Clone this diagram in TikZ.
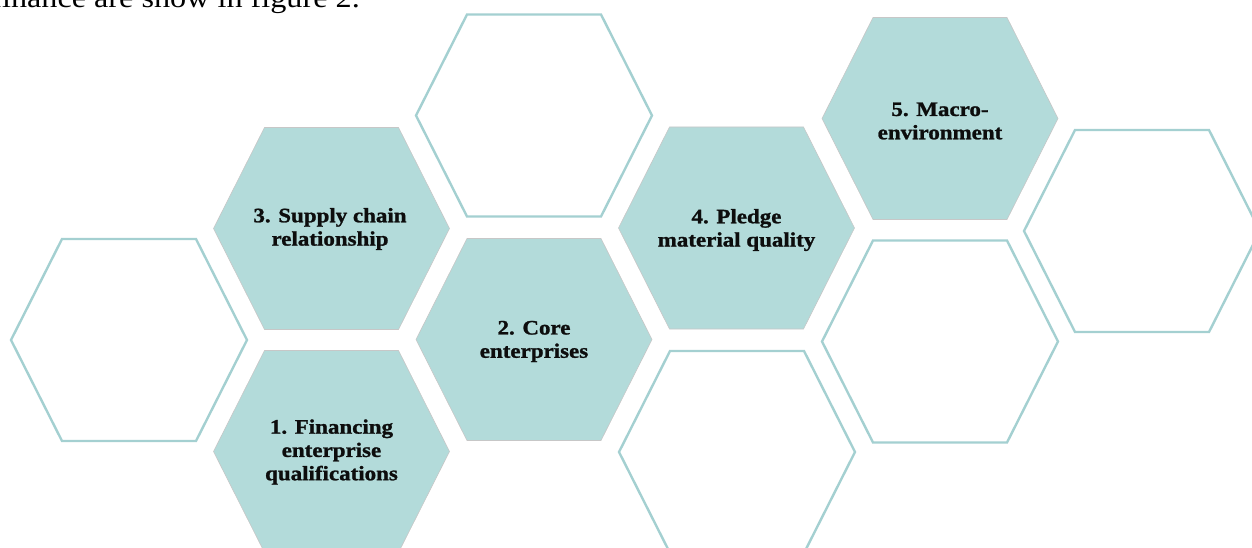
\documentclass[tikz,border=0pt]{standalone}
\usepackage{fontspec}
\setmainfont{Liberation Serif}
\newfontfamily\hexfont[FakeStretch=1.12, BoldFeatures={FakeBold=1.2}]{Liberation Serif}
\newfontfamily\topfont[FakeStretch=1.13]{Liberation Serif}
\definecolor{hexteal}{RGB}{179,219,218}
\definecolor{hexline}{RGB}{164,208,209}
\tikzset{
  hexagon/.pic={\path[pic actions] (-118,0) -- (-67,-101) -- (67,-101) -- (118,0) -- (67,101) -- (-67,101) -- cycle;},
  filledhex/.style={fill=hexteal, draw=black!22, line width=0.6pt},
  emptyhex/.style={fill=white, draw=hexline, line width=2.4pt},
  hextext/.style={font=\hexfont\bfseries\fontsize{20.5}{23.3}\selectfont, align=center, text=black!95, inner sep=0pt},
  toptext/.style={font=\topfont\fontsize{28.5}{32}\selectfont, inner sep=0pt, anchor=base east}
}
\begin{document}
\begin{tikzpicture}[x=1pt,y=-1pt]
\useasboundingbox (0,0) rectangle (1252,548);
\clip (0,0) rectangle (1252,548);
% empty hexagons
\pic[emptyhex] at (129,340) {hexagon};
\pic[emptyhex] at (534,115.5) {hexagon};
\pic[emptyhex] at (737,452) {hexagon};
\pic[emptyhex] at (940,341.5) {hexagon};
\pic[emptyhex] at (1142,231) {hexagon};
% filled hexagons
\pic[filledhex] at (331.5,228.5) {hexagon};
\pic[filledhex] at (331.5,451.5) {hexagon};
\pic[filledhex] at (534,339.5) {hexagon};
\pic[filledhex] at (736.5,228) {hexagon};
\pic[filledhex] at (940,118.5) {hexagon};
% labels
\node[hextext] (l3) at (330,229) {3. Supply chain\\relationship};
\node[hextext] (l1) at (331.5,452) {1. Financing\\enterprise\\qualifications};
\node[hextext] (l2) at (534,341.5) {2. Core\\enterprises};
\node[hextext] (l4) at (736.5,230) {4. Pledge\\material quality};
\node[hextext] (l5) at (940,121) {5. Macro-\\environment};
% running text
\node[toptext] (cap) at (360,7.5) {finance are show in figure 2.};
\end{tikzpicture}
\end{document}
